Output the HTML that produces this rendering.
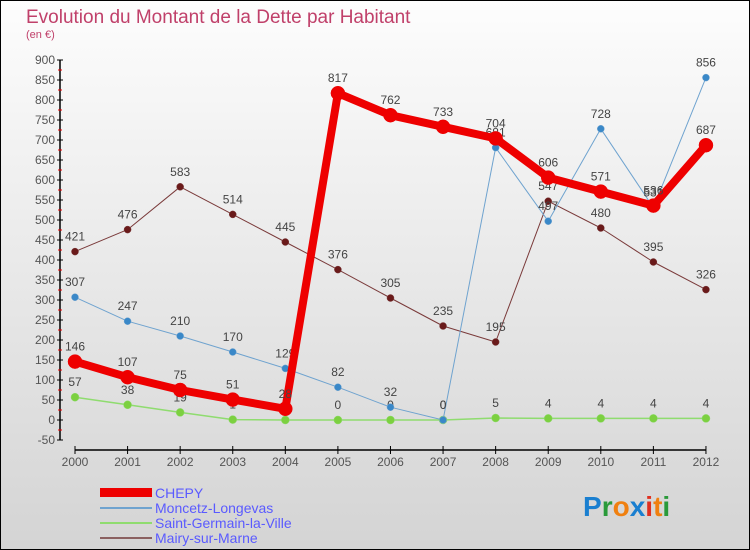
<!DOCTYPE html>
<html><head><meta charset="utf-8"><style>
body{margin:0}
#c{width:750px;height:550px;position:relative;background:linear-gradient(#fdfdfd,#d4d4d4);box-sizing:border-box;border:1px solid #000;overflow:hidden;font-family:"Liberation Sans",sans-serif}
</style></head><body>
<div id="c">
<svg id="s" width="750" height="550" style="position:absolute;left:-1px;top:-1px">
<text x="26" y="23" font-size="19" fill="#c0406a">Evolution du Montant de la Dette par Habitant</text>
<text x="26" y="38" font-size="11" fill="#c0406a">(en €)</text>
<g id="ax"></g><g id="ser"></g>
<g>
<rect x="100" y="488" width="52" height="9" fill="#e00"/>
<text x="155" y="498" font-size="14" fill="#5a5aff">CHEPY</text>
<rect x="100" y="507" width="52" height="2" fill="#6fa3cf"/>
<text x="155" y="513" font-size="14" fill="#5a5aff">Moncetz-Longevas</text>
<rect x="100" y="522" width="52" height="2" fill="#8fdc6f"/>
<text x="155" y="528" font-size="14" fill="#5a5aff">Saint-Germain-la-Ville</text>
<rect x="100" y="537" width="52" height="2" fill="#8a6060"/>
<text x="155" y="543" font-size="14" fill="#5a5aff">Mairy-sur-Marne</text>
</g>
<g font-size="28" font-weight="bold">
<text x="583" y="516"><tspan fill="#1a7fd0">P</tspan><tspan fill="#2a9a3a">r</tspan><tspan fill="#f08010">o</tspan><tspan fill="#1a7fd0">x</tspan><tspan fill="#e03020">i</tspan><tspan fill="#f08010">t</tspan><tspan fill="#2a9a3a">i</tspan></text>
</g>
</svg>
</div>
<script>
const years=["2000","2001","2002","2003","2004","2005","2006","2007","2008","2009","2010","2011","2012"];
const chepy=[146,107,75,51,28,817,762,733,704,606,571,536,687];
const moncetz=[307,247,210,170,129,82,32,0,681,497,728,531,856];
const stgermain=[57,38,19,1,0,0,0,0,5,4,4,4,4];
const mairy=[421,476,583,514,445,376,305,235,195,547,480,395,326];
const yTicks=[-50,0,50,100,150,200,250,300,350,400,450,500,550,600,650,700,750,800,850,900];
const NS="http://www.w3.org/2000/svg";
const X=i=>75+i*52.58, Y=v=>420-0.4*v;
function mk(t,a,p){const e=document.createElementNS(NS,t);for(const k in a)e.setAttribute(k,a[k]);p.appendChild(e);return e;}
const ax=document.getElementById('ax'), ser=document.getElementById('ser');
let yl=mk('line',{x1:60,y1:Y(900),x2:60,y2:Y(-50),stroke:'#000','stroke-width':1.5},ax);


yTicks.forEach(v=>{
 mk('line',{x1:57,x2:63,y1:Y(v),y2:Y(v),stroke:'#000'},ax);
 if(v<900)mk('line',{x1:58,x2:62,y1:Y(v+25),y2:Y(v+25),stroke:'#e00'},ax);
 const t=mk('text',{x:55,y:Y(v)+4,'font-size':12,fill:'#555','text-anchor':'end'},ax);t.textContent=v;
 
 
});
let xl=mk('line',{x1:X(0),y1:450,x2:X(12),y2:450,stroke:'#000','stroke-width':1.5},ax);


years.forEach((y,i)=>{
 mk('line',{x1:X(i),x2:X(i),y1:446,y2:454,stroke:'#000'},ax);
 const t=mk('text',{x:X(i),y:466,'font-size':12,fill:'#555','text-anchor':'middle'},ax);t.textContent=y;
 
 
});
function series(d,name,col,dot,w,r){
 const g=mk('g',{},ser);
 
 
 mk('polyline',{points:d.map((v,i)=>X(i)+','+Y(v)).join(' '),fill:'none',stroke:col,'stroke-width':w,'stroke-linejoin':'round'},g);
 d.forEach((v,i)=>{
  const c=mk('circle',{cx:X(i),cy:Y(v),r:r,fill:dot,stroke:col,'stroke-width':0.5},g);
  
  
  const t=mk('text',{x:X(i),y:Y(v)-11,'font-size':12,fill:'#444','text-anchor':'middle'},g);t.textContent=v;
 });
}
series(mairy,'mairy','#7a3a3a','#6a1a1a',1,3.5);
series(stgermain,'saint-germain','#8fdc6f','#7cd040',1.5,4);
series(moncetz,'moncetz','#6fa3cf','#3a88c8',1,3.5);
series(chepy,'chepy','#ee0000','#ee0000',8,7);
</script>
</body></html>
